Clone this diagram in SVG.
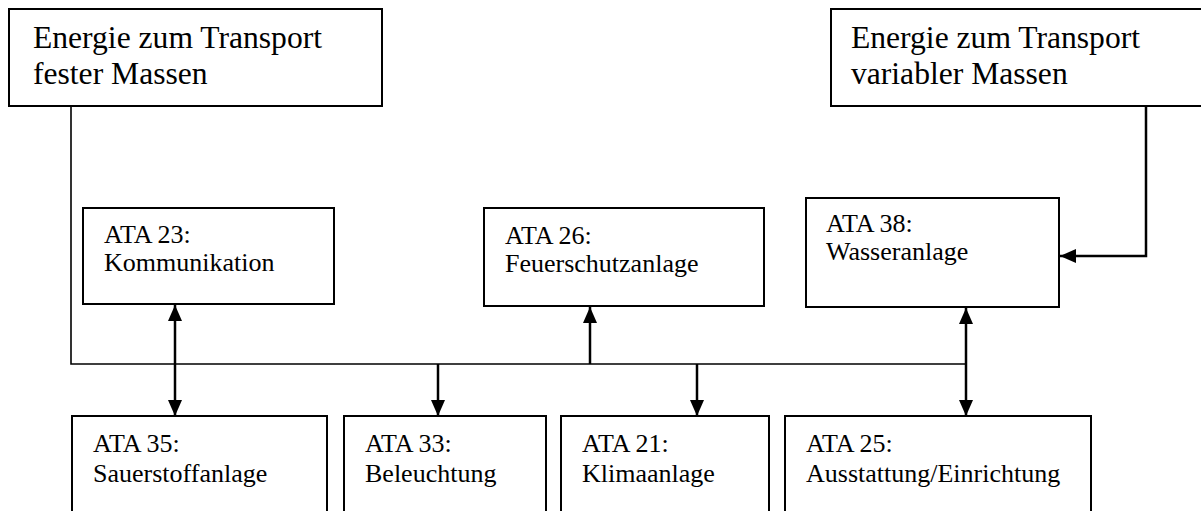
<svg xmlns="http://www.w3.org/2000/svg" width="1201" height="511" viewBox="0 0 1201 511">
<style>
.box{fill:#fff;stroke:#000;stroke-width:2}
.big{font-family:"Liberation Serif","Times New Roman",serif;font-size:31.6px;fill:#000}
.sm{font-family:"Liberation Serif","Times New Roman",serif;font-size:26px;fill:#000}
.ln{fill:none;stroke:#000;stroke-width:1.6}
.ar{fill:none;stroke:#000;stroke-width:2.5}
</style>
<defs>
<marker id="ah" viewBox="0 0 16 14" refX="16" refY="7" markerWidth="16" markerHeight="14" markerUnits="userSpaceOnUse" orient="auto-start-reverse">
<path d="M0,0 L16,7 L0,14 Z" fill="#000"/>
</marker>
</defs>
<g id="connectors">
<polyline class="ln" points="71,106 71,364 966,364"/>
<line class="ar" x1="175" y1="305" x2="175" y2="416" marker-start="url(#ah)" marker-end="url(#ah)"/>
<line class="ar" x1="438" y1="364" x2="438" y2="416" marker-end="url(#ah)"/>
<line class="ar" x1="590" y1="364" x2="590" y2="307" marker-end="url(#ah)"/>
<line class="ar" x1="697" y1="364" x2="697" y2="416" marker-end="url(#ah)"/>
<line class="ar" x1="966" y1="308" x2="966" y2="416" marker-start="url(#ah)" marker-end="url(#ah)"/>
<polyline class="ar" points="1146,106 1146,256 1060,256" marker-end="url(#ah)"/>
</g>
<g id="n-fest">
<rect class="box" x="9" y="9" width="373" height="97"/>
<text class="big" x="33" y="48">Energie zum Transport</text>
<text class="big" x="33" y="84">fester Massen</text>
</g>
<g id="n-var">
<rect class="box" x="831" y="9" width="380" height="97"/>
<text class="big" x="851" y="48">Energie zum Transport</text>
<text class="big" x="851" y="84">variabler Massen</text>
</g>
<g id="n-ata23">
<rect class="box" x="83" y="208" width="251" height="96"/>
<text class="sm" x="104" y="243">ATA 23:</text>
<text class="sm" x="104" y="271">Kommunikation</text>
</g>
<g id="n-ata26">
<rect class="box" x="484" y="208" width="280" height="98"/>
<text class="sm" x="505" y="244">ATA 26:</text>
<text class="sm" x="505" y="272">Feuerschutzanlage</text>
</g>
<g id="n-ata38">
<rect class="box" x="806" y="198" width="253" height="109"/>
<text class="sm" x="826" y="232">ATA 38:</text>
<text class="sm" x="826" y="260">Wasseranlage</text>
</g>
<g id="n-ata35">
<rect class="box" x="72" y="416" width="255" height="110"/>
<text class="sm" x="93" y="452">ATA 35:</text>
<text class="sm" x="93" y="482">Sauerstoffanlage</text>
</g>
<g id="n-ata33">
<rect class="box" x="344" y="416" width="202" height="110"/>
<text class="sm" x="365" y="452">ATA 33:</text>
<text class="sm" x="365" y="482">Beleuchtung</text>
</g>
<g id="n-ata21">
<rect class="box" x="561" y="416" width="208" height="110"/>
<text class="sm" x="582" y="452">ATA 21:</text>
<text class="sm" x="582" y="482">Klimaanlage</text>
</g>
<g id="n-ata25">
<rect class="box" x="785" y="416" width="306" height="110"/>
<text class="sm" x="806" y="452">ATA 25:</text>
<text class="sm" x="806" y="482">Ausstattung/Einrichtung</text>
</g>
</svg>
